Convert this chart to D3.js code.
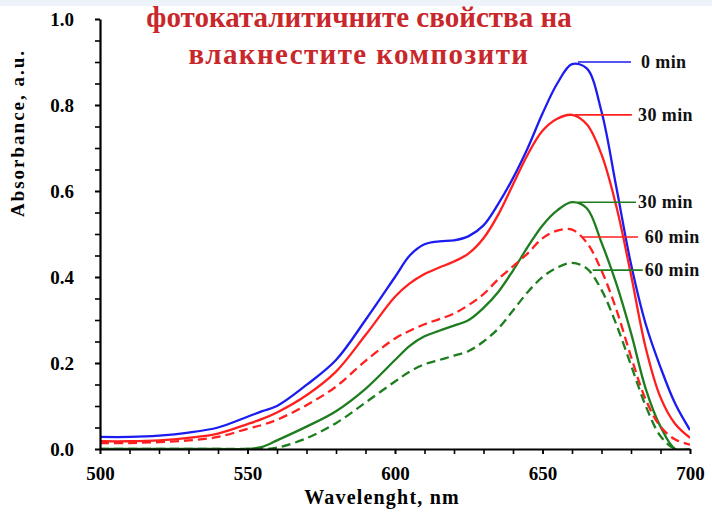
<!DOCTYPE html>
<html lang="bg">
<head>
<meta charset="UTF-8">
<title>Absorbance spectra</title>
<style>
  body { margin: 0; background: #fff; }
  svg text { font-family: 'Liberation Serif', 'Times New Roman', serif; font-weight: 700; }
</style>
<script src="https://d3js.org/d3.v7.min.js"></script>
</head>
<body>
<svg width="712" height="512"></svg>
<script>
// wavelengths, nm
const wavelengths = [500, 510, 520, 530, 540, 550, 555, 560, 570, 580, 590, 600, 605, 610, 615, 620,
  625, 630, 635, 640, 645, 650, 655, 660, 665, 670, 675, 680, 685, 690, 695, 700];

// absorbance, a.u.
const blue0 = [0.028, 0.028, 0.031, 0.038, 0.050, 0.075, 0.088, 0.100, 0.149, 0.207, 0.300, 0.400, 0.450, 0.476, 0.483, 0.485,
  0.495, 0.520, 0.570, 0.630, 0.700, 0.780, 0.850, 0.895, 0.885, 0.785, 0.610, 0.430, 0.290, 0.190, 0.105, 0.044];
const red30 = [0.018, 0.018, 0.020, 0.026, 0.036, 0.058, 0.070, 0.085, 0.125, 0.180, 0.265, 0.354, 0.385, 0.407, 0.422, 0.436,
  0.455, 0.490, 0.545, 0.615, 0.685, 0.740, 0.768, 0.777, 0.755, 0.685, 0.565, 0.405, 0.235, 0.120, 0.058, 0.026];
const red60 = [0.014, 0.014, 0.016, 0.020, 0.028, 0.047, 0.056, 0.068, 0.102, 0.145, 0.205, 0.257, 0.275, 0.290, 0.302, 0.315,
  0.335, 0.360, 0.395, 0.425, 0.455, 0.490, 0.508, 0.510, 0.480, 0.415, 0.325, 0.215, 0.115, 0.052, 0.022, 0.010];
const green30 = [0, 0, 0, 0, 0, 0, 0.005, 0.020, 0.052, 0.088, 0.140, 0.207, 0.240, 0.262, 0.275, 0.287,
  0.300, 0.328, 0.365, 0.415, 0.470, 0.520, 0.555, 0.574, 0.560, 0.480, 0.385, 0.270, 0.140, 0.052, 0, 0];
const green60 = [0, 0, 0, 0, 0, 0, 0, 0.003, 0.025, 0.060, 0.108, 0.157, 0.180, 0.197, 0.207, 0.217,
  0.228, 0.250, 0.280, 0.322, 0.365, 0.400, 0.422, 0.433, 0.420, 0.370, 0.290, 0.195, 0.100, 0.030, 0, 0];

const seriesLabels = ["0 min", "30 min", "30 min", "60 min", "60 min"];
const xTicks = [500, 550, 600, 650, 700];
const yTicks = [0.0, 0.2, 0.4, 0.6, 0.8, 1.0];

const titleLines = ["фотокаталитичните свойства на", "влакнестите композити"];

// lead: [leader start nm, leader value, leader end nm, label start nm]
const series = [
  { values: blue0, label: seriesLabels[0], color: "#1c1cf0", dash: null, lead: [662, 0.9, 680, 683.4] },
  { values: red30, label: seriesLabels[1], color: "#ff1f1f", dash: null, lead: [661, 0.777, 680.3, 682.4] },
  { values: green30, label: seriesLabels[2], color: "#1e7d1e", dash: null, lead: [662, 0.574, 681.7, 682.4] },
  { values: red60, label: seriesLabels[3], color: "#ff1f1f", dash: "9,5", lead: [663.5, 0.493, 682.4, 684.7] },
  { values: green60, label: seriesLabels[4], color: "#1e7d1e", dash: "9,5", lead: [667, 0.416, 684, 684.7] }
];

const svg = d3.select("svg");
svg.append("rect").attr("width", 712).attr("height", 6).attr("fill", "#eef3fa");

const x = d3.scaleLinear().domain([500, 700]).range([100, 690]);
const y = d3.scaleLinear().domain([0, 1]).range([449, 19]);

svg.append("clipPath").attr("id", "plot")
  .append("rect").attr("x", 100).attr("y", 10).attr("width", 590).attr("height", 440);

// minor ticks
svg.append("g")
  .attr("transform", "translate(0,449)")
  .call(d3.axisBottom(x).tickValues(d3.range(500, 701, 10)).tickFormat("").tickSize(5).tickSizeOuter(0))
  .call(g => g.select(".domain").remove())
  .selectAll("line").attr("stroke", "#000").attr("stroke-width", 1.6);
svg.append("g")
  .attr("transform", "translate(100,0)")
  .call(d3.axisLeft(y).tickValues(d3.range(0, 1.001, 0.05)).tickFormat("").tickSize(5).tickSizeOuter(0))
  .call(g => g.select(".domain").remove())
  .selectAll("line").attr("stroke", "#000").attr("stroke-width", 1.6);

const line = d3.line()
  .x((d, i) => x(wavelengths[i]))
  .y(d => y(d))
  .curve(d3.curveCatmullRom.alpha(0.5));

const curves = svg.append("g").attr("clip-path", "url(#plot)");
series.forEach(s => {
  curves.append("path")
    .attr("d", line(s.values))
    .attr("fill", "none")
    .attr("stroke", s.color)
    .attr("stroke-width", 2.3)
    .attr("stroke-dasharray", s.dash);
});

// axes
const xAxis = svg.append("g")
  .attr("transform", "translate(0,449)")
  .call(d3.axisBottom(x).tickValues(xTicks).tickSize(5).tickSizeOuter(0).tickPadding(12));
const yAxis = svg.append("g")
  .attr("transform", "translate(100,0)")
  .call(d3.axisLeft(y).tickValues(yTicks).tickFormat(d3.format(".1f")).tickSize(5).tickSizeOuter(0).tickPadding(21));
[xAxis, yAxis].forEach(g => {
  g.select(".domain").attr("stroke", "#000").attr("stroke-width", 2.2);
  g.selectAll(".tick line").attr("stroke", "#000").attr("stroke-width", 1.6);
  g.selectAll(".tick text").attr("fill", "#000").style("font-size", "19px")
    .style("font-family", "'Liberation Serif', 'Times New Roman', serif").style("font-weight", 700);
});
xAxis.selectAll(".tick text").attr("dy", "0.75em");

// leader lines + labels
series.forEach(s => {
  const [x0, v, x1, xt] = s.lead;
  svg.append("line")
    .attr("x1", x(x0)).attr("x2", x(x1))
    .attr("y1", y(v)).attr("y2", y(v))
    .attr("stroke", s.color).attr("stroke-width", 1.6);
  svg.append("text")
    .attr("x", x(xt)).attr("y", y(v))
    .attr("dy", "0.35em")
    .style("font-size", "18px")
    .style("letter-spacing", "0.4px")
    .attr("fill", "#111")
    .text(s.label);
});

// axis titles
svg.append("text")
  .attr("transform", "translate(24,133) rotate(-90)")
  .attr("text-anchor", "middle")
  .style("font-size", "19px")
  .style("letter-spacing", "2px")
  .text("Absorbance,  a.u.");
svg.append("text")
  .attr("x", 382).attr("y", 504)
  .attr("text-anchor", "middle")
  .style("font-size", "20px")
  .style("letter-spacing", "1.2px")
  .text("Wavelenght,  nm");

// title
svg.selectAll(".title")
  .data(titleLines)
  .enter().append("text")
  .attr("class", "title")
  .attr("x", 359)
  .attr("y", (d, i) => 27 + i * 37)
  .attr("text-anchor", "middle")
  .attr("fill", "#c8282b")
  .style("font-size", "29px")
  .style("letter-spacing", (d, i) => i === 1 ? "1.4px" : "0px")
  .text(d => d);
</script>
</body>
</html>
